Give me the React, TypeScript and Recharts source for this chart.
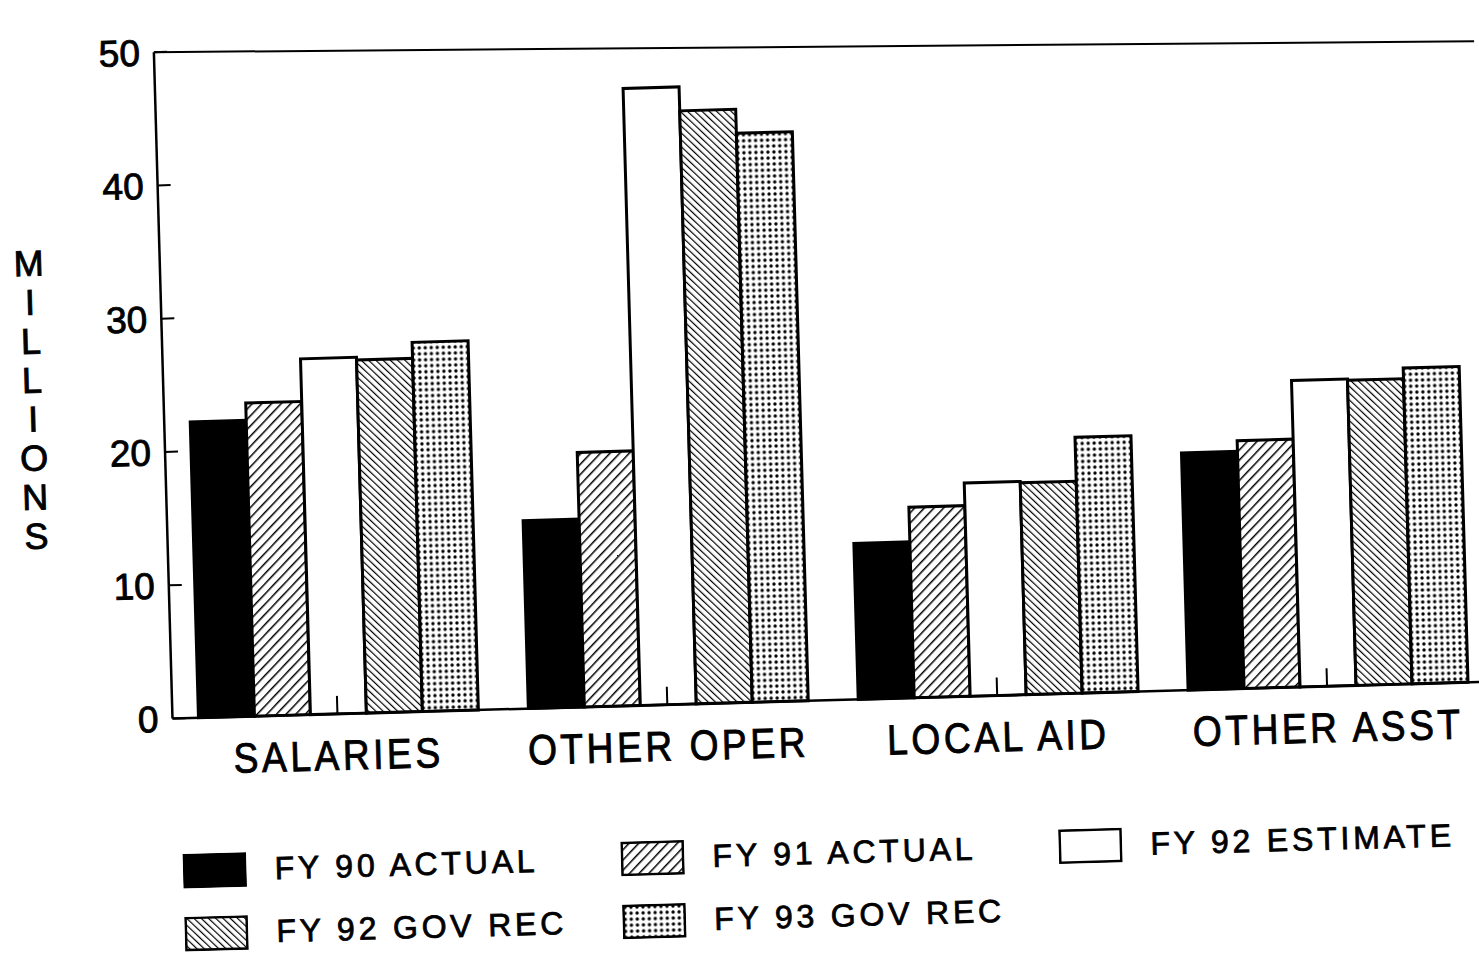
import React from "react";
import {
  BarChart,
  Bar,
  XAxis,
  YAxis,
  Legend,
  ReferenceLine,
} from "recharts";

const categories = ["SALARIES", "OTHER OPER", "LOCAL AID", "OTHER ASST"];
const fy90Actual = [22.2, 14.1, 11.7, 17.8];
const fy91Actual = [23.5, 19.1, 14.3, 18.6];
const fy92Estimate = [26.7, 46.3, 16.0, 23.0];
const fy92GovRec = [26.5, 44.5, 15.9, 22.9];
const fy93GovRec = [27.7, 42.7, 19.2, 23.7];
const yTicks = [0, 10, 20, 30, 40, 50];
const axisTitle = "MILLIONS";

const data = categories.map((name, i) => ({
  name,
  fy90: fy90Actual[i],
  fy91: fy91Actual[i],
  fy92e: fy92Estimate[i],
  fy92g: fy92GovRec[i],
  fy93: fy93GovRec[i],
}));

const series = [
  { key: "fy90", label: "FY 90 ACTUAL", fill: "#000" },
  { key: "fy91", label: "FY 91 ACTUAL", fill: "url(#hatchUp)" },
  { key: "fy92e", label: "FY 92 ESTIMATE", fill: "#fff" },
  { key: "fy92g", label: "FY 92 GOV REC", fill: "url(#hatchDown)" },
  { key: "fy93", label: "FY 93 GOV REC", fill: "url(#dots)" },
];

const font = "'Liberation Sans', Arial, sans-serif";

// legend sits in two rows of three columns
const legendCols = [172, 610, 1048];
const legendRows = [39, 102];

function YTick(props: any) {
  const { x, y, payload } = props;
  return (
    <g>
      <line x1={x} x2={x + 13} y1={y} y2={y} stroke="#000" strokeWidth={2} />
      <text
        x={x - 14}
        y={y}
        dy={13}
        textAnchor="end"
        fontFamily={font}
        fontSize={37}
        fill="#000"
        stroke="#000"
        strokeWidth={0.9}
      >
        {payload.value}
      </text>
    </g>
  );
}

function XTick(props: any) {
  const { x, y, payload } = props;
  return (
    <g>
      <line x1={x} x2={x} y1={y} y2={y - 18} stroke="#000" strokeWidth={2} />
      <text
        transform={`translate(${x},${y + 56}) scale(0.885,1)`}
        textAnchor="middle"
        fontFamily={font}
        fontSize={42}
        letterSpacing={4}
        fill="#000"
        stroke="#000"
        strokeWidth={0.9}
      >
        {payload.value}
      </text>
    </g>
  );
}

function AxisTitle() {
  return (
    <text
      x={35}
      y={256}
      textAnchor="middle"
      fontFamily={font}
      fontSize={36}
      fill="#000"
      stroke="#000"
      strokeWidth={0.9}
    >
      {axisTitle.split("").map((ch, i) => (
        <tspan key={i} x={35} dy={i === 0 ? 0 : 39}>
          {ch}
        </tspan>
      ))}
    </text>
  );
}

// the scanned frame top sags a little towards the right
function TopFrame(props: any) {
  const { x1, y1, x2, y2 } = props;
  return <line x1={x1} y1={y1} x2={x2} y2={y2 + 26} stroke="#000" strokeWidth={2} />;
}

function Swatch({ fill }: { fill: string }) {
  return (
    <svg width={64} height={35} style={{ display: "block" }}>
      <rect x={1.5} y={1.5} width={61} height={32} fill={fill} stroke="#000" strokeWidth={2.5} />
    </svg>
  );
}

function LegendBox() {
  return (
    <div style={{ position: "relative", height: 140, width: 1480 }}>
      {series.map((s, i) => {
        const col = legendCols[i % 3];
        const row = legendRows[Math.floor(i / 3)];
        return (
          <div key={s.key}>
            <div style={{ position: "absolute", left: col, top: row - 17 }}>
              <Swatch fill={s.fill} />
            </div>
            <div
              style={{
                position: "absolute",
                left: col + 92,
                top: row - 20,
                fontFamily: font,
                fontSize: 32,
                letterSpacing: 3.8,
                lineHeight: "40px",
                whiteSpace: "nowrap",
                color: "#000",
                WebkitTextStroke: "0.8px #000",
              }}
            >
              {s.label}
            </div>
          </div>
        );
      })}
    </div>
  );
}

export default function App() {
  return (
    <div
      style={{
        position: "fixed",
        left: 0,
        top: 0,
        width: 1479,
        height: 956,
        overflow: "hidden",
        background: "#fff",
      }}
    >
      <div style={{ transform: "rotate(-1.6deg)", transformOrigin: "740px 478px" }}>
        <BarChart
          width={1490}
          height={956}
          data={data}
          margin={{ top: 36, right: 4, left: 0, bottom: 0 }}
          barCategoryGap={26}
          barGap={0}
        >
          <defs>
            <pattern id="hatchUp" width={7} height={7} patternUnits="userSpaceOnUse" patternTransform="rotate(45)">
              <rect width={7} height={7} fill="#fff" />
              <line x1={0} y1={0} x2={0} y2={7} stroke="#000" strokeWidth={3} />
            </pattern>
            <pattern id="hatchDown" width={5} height={5} patternUnits="userSpaceOnUse" patternTransform="rotate(-45)">
              <rect width={5} height={5} fill="#fff" />
              <line x1={0} y1={0} x2={0} y2={5} stroke="#000" strokeWidth={2.4} />
            </pattern>
            <pattern id="dots" width={6} height={6} patternUnits="userSpaceOnUse">
              <rect width={6} height={6} fill="#fff" />
              <circle cx={3} cy={3} r={1.7} fill="#000" />
            </pattern>
          </defs>
          <ReferenceLine y={50} ifOverflow="visible" shape={(p: any) => <TopFrame {...p} />} />
          <XAxis
            dataKey="name"
            height={72}
            axisLine={{ stroke: "#000", strokeWidth: 2.5 }}
            tickLine={false}
            tickSize={0}
            tickMargin={0}
            interval={0}
            tick={(p: any) => <XTick {...p} />}
          />
          <YAxis
            width={166}
            domain={[0, 50]}
            ticks={yTicks}
            interval={0}
            axisLine={{ stroke: "#000", strokeWidth: 2.5 }}
            tickLine={false}
            tickSize={0}
            tickMargin={0}
            tick={(p: any) => <YTick {...p} />}
            label={<AxisTitle />}
          />
          {series.map((s) => (
            <Bar
              key={s.key}
              dataKey={s.key}
              name={s.label}
              fill={s.fill}
              stroke="#000"
              strokeWidth={3}
              isAnimationActive={false}
            />
          ))}
          <Legend verticalAlign="bottom" content={() => <LegendBox />} />
        </BarChart>
      </div>
    </div>
  );
}
